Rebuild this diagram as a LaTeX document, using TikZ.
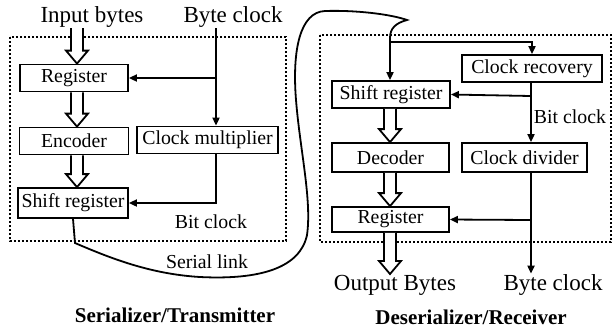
\documentclass[tikz,border=0pt]{standalone}
\usepackage{fontspec}
\setmainfont{Liberation Serif}
\usetikzlibrary{arrows.meta,calc}

% hollow wide arrow from #1 straight down to #2
\newcommand\busarrow[2]{%
  \draw[line width=0.9pt, fill=white, line join=miter]
    let \p1=(#1), \p2=(#2) in
    (\x1-3pt,\y1) -- (\x1-3pt,\y2+6.5pt) -- (\x1-5.5pt,\y2+6.5pt)
    -- (\x1,\y2) -- (\x1+5.5pt,\y2+6.5pt) -- (\x1+3pt,\y2+6.5pt)
    -- (\x1+3pt,\y1);
}

\begin{document}
\begin{tikzpicture}[
  x=0.5pt, y=-0.5pt,
  line width=0.9pt,
  blk/.style={draw, line width=0.9pt, minimum height=13.5pt, inner sep=1pt,
    font=\rmfamily\fontsize{9.9}{11}\selectfont},
  lbl/.style={inner sep=0pt, font=\rmfamily\fontsize{9.9}{11}\selectfont},
  io/.style={inner sep=0pt, font=\rmfamily\fontsize{11.5}{13}\selectfont},
  title/.style={inner sep=0pt, font=\rmfamily\fontsize{10.5}{12}\selectfont\bfseries},
  frame/.style={draw, line width=1.1pt, dash pattern=on 1.1pt off 0.9pt},
  sig/.style={-{Triangle[length=4pt, width=3.5pt]}},
]
  \useasboundingbox (0,0) rectangle (613,328);

  % transmitter
  \draw[frame] (10,37) rectangle (286,241);
  \node[io] (inbytes) at (92,17) {Input bytes};
  \node[io] (txclk) at (233,17) {Byte clock};
  \node[blk, minimum width=54pt] (treg) at (74,78) {Register};
  \node[blk, minimum width=54.5pt] (enc) at (74,141) {Encoder};
  \node[blk, minimum width=70.5pt] (mult) at (207.5,140) {Clock multiplier};
  \node[blk, minimum width=55pt, minimum height=15pt] (tsr) at (73,203) {Shift register};
  \node[lbl] (tbit) at (211,222) {Bit clock};
  \node[lbl] (link) at (207,262) {Serial link};
  \node[title] (ttl) at (175,315) {Serializer/Transmitter};

  \coordinate (tclk) at (216,28);
  \coordinate (tsplit) at (216,78);
  \coordinate (tmul) at (216,203);
  \coordinate (tbus) at (77,28);
  \busarrow{tbus}{tbus |- treg.north}
  \busarrow{treg.south -| tbus}{enc.north -| tbus}
  \busarrow{enc.south -| tbus}{tsr.north -| tbus}
  \draw[sig] (tclk) -- (tclk |- mult.north);
  \draw[sig] (tsplit) -- (treg.east);
  \draw[sig] (tmul |- mult.south) -- (tmul) -- (tsr.east);

  % receiver
  \draw[frame] (320,35) rectangle (611,242);
  \node[blk, minimum width=59pt] (rsr) at (391,94.5) {Shift register};
  \node[blk, minimum width=70pt] (rec) at (532,68.5) {Clock recovery};
  \node[blk, minimum width=58.5pt, minimum height=14.5pt] (dec) at (390.5,157.5) {Decoder};
  \node[blk, minimum width=62.5pt, minimum height=14.5pt] (div) at (524.5,157.5) {Clock divider};
  \node[blk, minimum width=58.5pt, minimum height=12.5pt] (rreg) at (390.5,219.5) {Register};
  \node[lbl] (rbit) at (570,117) {Bit clock};
  \node[io] (outbytes) at (395,285) {Output Bytes};
  \node[io] (rxclk) at (553,285) {Byte clock};
  \node[title] (rttl) at (471,317) {Deserializer/Receiver};

  \coordinate (tip) at (407,20);
  \coordinate (split) at (390,42);
  \coordinate (rbitsplit) at (531,96);
  \coordinate (rbytesplit) at (531,220);
  \busarrow{rsr.south -| split}{dec.north -| split}
  \busarrow{dec.south -| split}{rreg.north -| split}
  \busarrow{rreg.south -| split}{outbytes.north -| split}
  \draw[sig] (split) -- (split -| rec.north) -- (rec.north);
  \draw[sig] (rbitsplit |- rec.south) -- (rbitsplit |- div.north);
  \draw[sig] (rbitsplit) -- (rsr.east);
  \draw[sig] (rbytesplit |- div.south) -- (rbytesplit |- rxclk.north);
  \draw[sig] (rbytesplit) -- (rreg.east);

  % serial link
  \draw[sig] (tsr.south) -- (75,243)
    .. controls (110,258) and (150,274) .. (200,277)
    .. controls (260,280) and (300,268) .. (307,235)
    .. controls (312,200) and (300,150) .. (296,100)
    .. controls (292,50) and (300,12) .. (325,11)
    .. controls (355,10) and (390,14) .. (tip)
    .. controls (396,23) and (390,28) .. (390,38)
    -- (split) -- (rsr.north -| split);
\end{tikzpicture}
\end{document}
